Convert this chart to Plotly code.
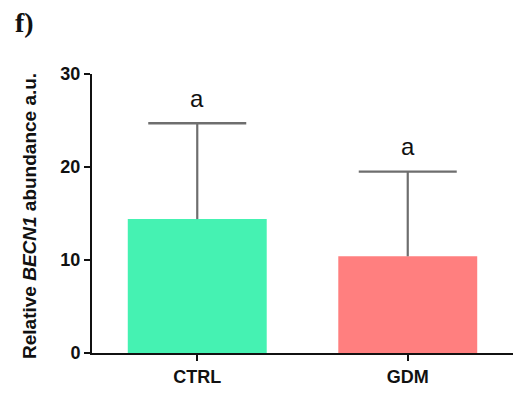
import plotly.graph_objects as go

categories = ["CTRL", "GDM"]
means = [14.4, 10.4]
sem_upper = [10.3, 9.1]
sig_labels = ["a", "a"]
label_y = [27.4, 22.2]
bar_colors = ["#45F2B2", "#FF7F7F"]
y_ticks = [0, 10, 20, 30]

W, H = 525, 394
L, R, T, B = 92, 12, 74, 41
pw = W - L - R
ph = H - T - B

xpos = list(range(len(categories)))
tops = [m + s for m, s in zip(means, sem_upper)]

fig = go.Figure()
fig.add_trace(go.Bar(
    x=xpos, y=means, width=0.66,
    marker=dict(color=bar_colors, line=dict(width=0)),
    error_y=dict(type="data", array=sem_upper, arrayminus=[0] * len(means), symmetric=False,
                 color="#6e6e6e", thickness=2.2, width=0),
    showlegend=False, hoverinfo="skip",
))
# error-bar caps (top only)
fig.add_trace(go.Scatter(
    x=xpos, y=tops, mode="markers",
    marker=dict(symbol="line-ew", size=70, line=dict(color="#6e6e6e", width=2.4)),
    showlegend=False, hoverinfo="skip",
))

for xi, yv, t in zip(xpos, label_y, sig_labels):
    fig.add_annotation(x=xi, y=yv, text=t, showarrow=False,
                       font=dict(family="Liberation Sans, Arial", size=24, color="#111"),
                       xanchor="center", yanchor="middle")

fig.add_annotation(xref="paper", yref="paper", x=(29 - L) / pw, y=1 - (216 - T) / ph,
                   text="<b>Relative <i>BECN1</i> abundance a.u.</b>", textangle=-90, showarrow=False,
                   font=dict(family="Liberation Sans, Arial", size=19, color="#111"),
                   xanchor="center", yanchor="middle")

fig.add_annotation(xref="paper", yref="paper", x=(13 - L) / pw, y=1 + (T - 23) / ph,
                   text="<b>f)</b>", showarrow=False,
                   font=dict(family="Liberation Serif, Times New Roman", size=28, color="#111"),
                   xanchor="left", yanchor="middle")

fig.update_layout(
    width=W, height=H, margin=dict(l=L, r=R, t=T, b=B, autoexpand=False),
    plot_bgcolor="white", paper_bgcolor="white",
    font=dict(family="Liberation Sans, Arial", color="#111"),
    xaxis=dict(range=[-0.5, 1.5], tickvals=xpos, ticktext=categories, automargin=False,
               showline=True, linecolor="#111", linewidth=2,
               ticks="outside", ticklen=6, tickwidth=2, tickcolor="#111",
               tickfont=dict(size=18, family="Liberation Sans, Arial", weight="bold"),
               showgrid=False, zeroline=False),
    yaxis=dict(range=[0, 30], tickvals=y_ticks, automargin=False,
               showline=True, linecolor="#111", linewidth=2,
               ticks="outside", ticklen=6, tickwidth=2, tickcolor="#111",
               tickfont=dict(size=18, family="Liberation Sans, Arial", weight="bold"),
               showgrid=False, zeroline=False),
)

fig.write_html("out.html")
